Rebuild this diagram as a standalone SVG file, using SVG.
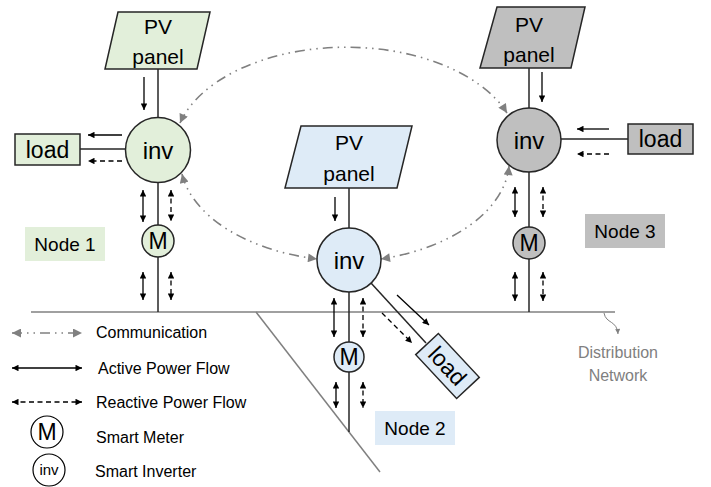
<svg xmlns="http://www.w3.org/2000/svg" width="711" height="487" viewBox="0 0 711 487">
<style>
text{font-family:"Liberation Sans",Arial,sans-serif;fill:#000}
.ln{stroke:#262626;stroke-width:1.5;fill:none}
.bus{stroke:#808080;stroke-width:1.5;fill:none}
.pf{stroke:#000;stroke-width:1.3;fill:none;marker-end:url(#ah)}
.pf2{stroke:#000;stroke-width:1.3;fill:none;marker-end:url(#ah);marker-start:url(#ah)}
.dash{stroke-dasharray:5 3.5}
.com{stroke:#808080;stroke-width:1.6;fill:none;stroke-dasharray:10 5 1.5 5 1.5 5;marker-start:url(#gh);marker-end:url(#gh)}
.sh{stroke:#262626;stroke-width:1.5}
.g1{fill:#e2efda}.g2{fill:#deebf7}.g3{fill:#bfbfbf}
.pv{font-size:21px;text-anchor:middle}
.inv{font-size:24px;text-anchor:middle}
.m{font-size:23px;text-anchor:middle}
.load{font-size:23px;text-anchor:middle}
.lbl{font-size:19px;text-anchor:middle}
.leg{font-size:16px}
</style>
<defs>
<marker id="ah" viewBox="0 0 10 10" refX="10" refY="5" markerWidth="8" markerHeight="6.5" markerUnits="userSpaceOnUse" orient="auto-start-reverse"><path d="M0,0 L10,5 L0,10 z" fill="#000"/></marker>
<marker id="gh" viewBox="0 0 10 10" refX="10" refY="5" markerWidth="10" markerHeight="9" markerUnits="userSpaceOnUse" orient="auto-start-reverse"><path d="M0,0 L10,5 L0,10 z" fill="#808080"/></marker>
<marker id="sh" viewBox="0 0 10 10" refX="10" refY="5" markerWidth="6" markerHeight="5" markerUnits="userSpaceOnUse" orient="auto"><path d="M0,0 L10,5 L0,10 z" fill="#808080"/></marker>
</defs>

<g id="connectors">
  <line class="bus" x1="31" y1="312" x2="615" y2="312"/>
  <line class="bus" x1="256" y1="312" x2="380" y2="472"/>
  <path d="M604,313 C606,324 617,320 618,334" stroke="#808080" stroke-width="1" fill="none" marker-end="url(#sh)"/>
  <line class="ln" x1="158" y1="69" x2="158" y2="312"/>
  <line class="ln" x1="80" y1="149" x2="126" y2="149"/>
  <line class="ln" x1="349" y1="188" x2="349" y2="432"/>
  <line class="ln" x1="371" y1="283" x2="426" y2="343"/>
  <line class="ln" x1="529" y1="68" x2="529" y2="312"/>
  <line class="ln" x1="561" y1="139" x2="628" y2="139"/>
  <path class="com" d="M180,123 A172,102 0 0 1 507,113"/>
  <path class="com" d="M182,174 A172,102 0 0 0 317,259"/>
  <path class="com" d="M509,166 A172,102 0 0 1 381,259"/>
  <line class="pf" x1="144" y1="77" x2="144" y2="110"/>
  <line class="pf" x1="122" y1="135" x2="88" y2="135"/>
  <line class="pf dash" x1="122" y1="161" x2="88" y2="161"/>
  <line class="pf2" x1="143" y1="190" x2="143" y2="222"/>
  <line class="pf2 dash" x1="171" y1="190" x2="171" y2="221"/>
  <line class="pf2" x1="143" y1="272" x2="143" y2="300"/>
  <line class="pf2 dash" x1="171" y1="272" x2="171" y2="300"/>
  <line class="pf" x1="335" y1="197" x2="335" y2="221"/>
  <line class="pf" x1="397" y1="295" x2="429" y2="325"/>
  <line class="pf dash" x1="382" y1="313" x2="412" y2="343"/>
  <line class="pf2" x1="334" y1="298" x2="334" y2="337"/>
  <line class="pf2 dash" x1="363" y1="298" x2="363" y2="337"/>
  <line class="pf2" x1="336" y1="382" x2="336" y2="408"/>
  <line class="pf2 dash" x1="363" y1="382" x2="363" y2="408"/>
  <line class="pf" x1="542" y1="72" x2="542" y2="102"/>
  <line class="pf" x1="609" y1="129" x2="577" y2="129"/>
  <line class="pf dash" x1="609" y1="154" x2="577" y2="154"/>
  <line class="pf2" x1="515" y1="187" x2="515" y2="217"/>
  <line class="pf2 dash" x1="543" y1="187" x2="543" y2="217"/>
  <line class="pf2" x1="515" y1="272" x2="515" y2="301"/>
  <line class="pf2 dash" x1="543" y1="272" x2="543" y2="301"/>
</g>

<g id="node1">
  <polygon class="g1 sh" points="118,12 210,12 197,69 105,69"/>
  <text class="pv" x="158" y="34">PV</text>
  <text class="pv" x="158" y="64">panel</text>
  <circle class="g1 sh" cx="158" cy="150" r="32.5"/>
  <text class="inv" x="158" y="159">inv</text>
  <rect class="g1 sh" x="15" y="134" width="65" height="31"/>
  <text class="load" x="47.5" y="158">load</text>
  <circle class="g1 sh" cx="158" cy="241" r="16"/>
  <text class="m" x="158" y="249">M</text>
  <rect class="g1" x="25" y="227" width="80" height="34"/>
  <text class="lbl" x="65" y="251">Node 1</text>
</g>

<g id="node2">
  <polygon class="g2 sh" points="301,126 412,126 397,188 285,188"/>
  <text class="pv" x="349" y="150">PV</text>
  <text class="pv" x="349" y="181">panel</text>
  <circle class="g2 sh" cx="349" cy="260" r="32"/>
  <text class="inv" x="349" y="269">inv</text>
  <circle class="g2 sh" cx="349" cy="357" r="15"/>
  <text class="m" x="349" y="365">M</text>
  <g transform="translate(447.5,366) rotate(47)">
    <rect class="g2 sh" x="-30" y="-15.5" width="60" height="31"/>
    <text class="load" x="0" y="8">load</text>
  </g>
  <rect class="g2" x="375" y="411" width="80" height="34"/>
  <text class="lbl" x="415" y="435">Node 2</text>
</g>

<g id="node3">
  <polygon class="g3 sh" points="497,7 585,7 571,68 480,68"/>
  <text class="pv" x="529" y="32">PV</text>
  <text class="pv" x="529" y="62">panel</text>
  <circle class="g3 sh" cx="529" cy="140" r="32"/>
  <text class="inv" x="529" y="149">inv</text>
  <rect class="g3 sh" x="628" y="124" width="65" height="30"/>
  <text class="load" x="660.5" y="147">load</text>
  <circle class="g3 sh" cx="529" cy="243" r="16"/>
  <text class="m" x="529" y="251">M</text>
  <rect class="g3" x="585" y="214" width="80" height="34"/>
  <text class="lbl" x="625" y="238">Node 3</text>
</g>

<g id="distribution">
  <text x="618" y="358" font-size="16" text-anchor="middle" style="fill:#808080">Distribution</text>
  <text x="618" y="381" font-size="16" text-anchor="middle" style="fill:#808080">Network</text>
</g>

<g id="legend">
  <line class="com" x1="12" y1="333" x2="82" y2="333"/>
  <text class="leg" x="96" y="338">Communication</text>
  <line class="pf2" x1="12" y1="368" x2="82" y2="368"/>
  <text class="leg" x="98" y="374">Active Power Flow</text>
  <line class="pf2 dash" x1="12" y1="402" x2="82" y2="402"/>
  <text class="leg" x="96" y="408">Reactive Power Flow</text>
  <circle cx="47" cy="432" r="16" fill="#fff" stroke="#000" stroke-width="1.2"/>
  <text class="m" x="47" y="440">M</text>
  <text class="leg" x="96" y="443">Smart Meter</text>
  <circle cx="49" cy="470" r="16" fill="#fff" stroke="#000" stroke-width="1.2"/>
  <text x="49" y="475" font-size="15" text-anchor="middle">inv</text>
  <text class="leg" x="95" y="477">Smart Inverter</text>
</g>
</svg>
